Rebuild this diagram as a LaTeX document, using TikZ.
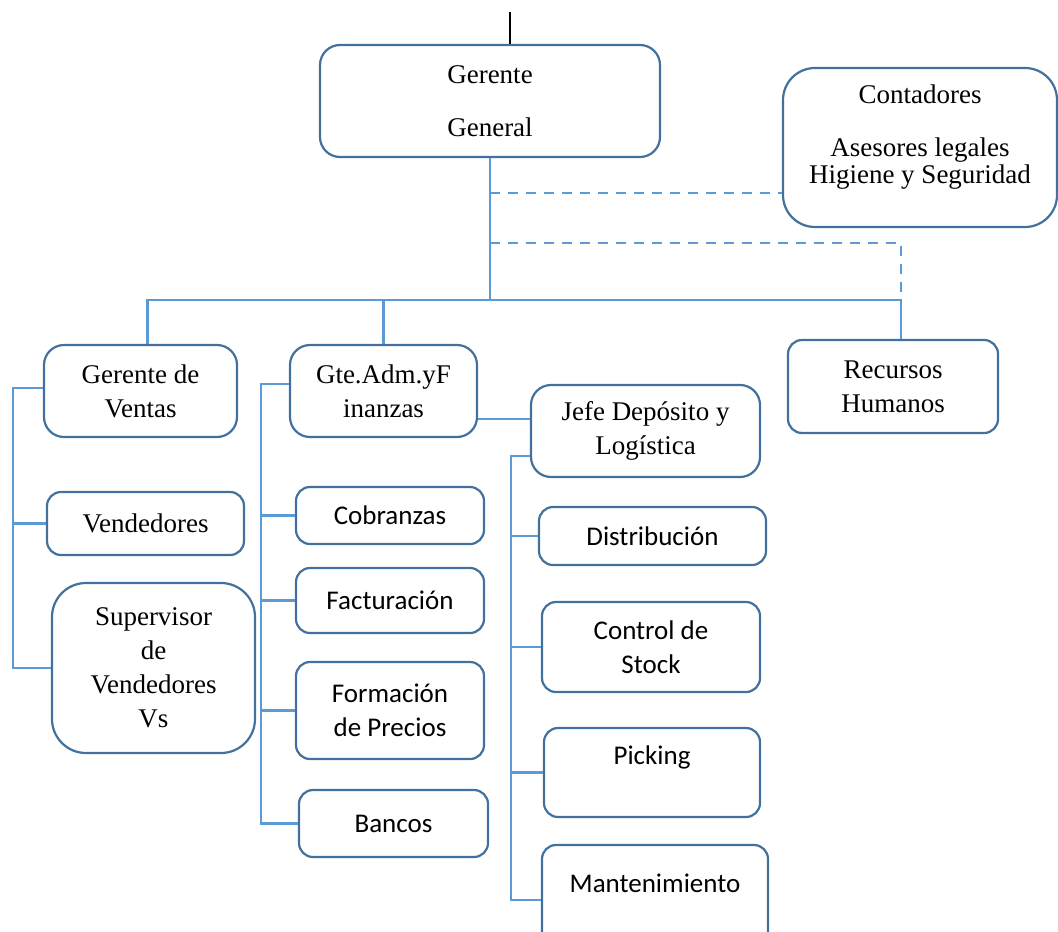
\documentclass[tikz,border=0pt]{standalone}
\usepackage{fontspec}
\setmainfont{Liberation Serif}
\newfontfamily\cuerpo{Carlito}
\usepackage{tikz}
\usetikzlibrary{calc}
\definecolor{orgedge}{HTML}{41719C}
\definecolor{orgline}{HTML}{5B9BD5}
\tikzset{
  obox/.style={draw=orgedge, fill=white, line width=1.1pt, rounded corners=7pt, align=center, inner sep=2pt, font=\fontsize{13.5}{17}\selectfont},
  oboxsans/.style={obox, font=\cuerpo\fontsize{13.5}{17}\selectfont},
  olink/.style={draw=orgline, line width=1.1pt},
  olinkdash/.style={olink, dash pattern=on 5pt off 4pt},
}

\begin{document}
\begin{tikzpicture}[x=0.5pt, y=-0.5pt]
  \useasboundingbox (0,0) rectangle (1058,931);
  % top level
  \node[obox, rounded corners=10pt, minimum width=170pt, minimum height=56pt] (gg) at (490,101) {Gerente\\[9.5pt]General};
  \node[obox, rounded corners=16pt, minimum width=137pt, minimum height=79.5pt, font=\fontsize{13.5}{13.5}\selectfont] (cont) at (920,147.5) {Contadores\\[13pt]Asesores legales\\Higiene y Seguridad\\\mbox{}};
  \node[obox, minimum width=105pt, minimum height=46.5pt] (rh) at (893,386.5) {Recursos\\Humanos};
  % second level
  \node[obox, rounded corners=10pt, minimum width=96.5pt, minimum height=46pt] (gv) at (140.5,391) {Gerente de\\Ventas};
  \node[obox, rounded corners=10pt, minimum width=93.5pt, minimum height=46pt] (ga) at (383.5,391) {Gte.Adm.yF\\inanzas};
  \node[obox, rounded corners=10pt, minimum width=114.5pt, minimum height=46pt] (jefe) at (645.5,431) {Jefe Depósito y\\Logística};
  % ventas
  \node[obox, minimum width=98.5pt, minimum height=31.5pt] (vend) at (145.5,523.5) {Vendedores};
  \node[obox, rounded corners=17pt, minimum width=101.5pt, minimum height=85pt] (sup) at (153.5,668) {Supervisor\\de\\Vendedores\\Vs};
  % administracion
  \node[oboxsans, minimum width=94pt, minimum height=28.5pt] (cob) at (390,515.5) {Cobranzas};
  \node[oboxsans, minimum width=94pt, minimum height=32.5pt] (fact) at (390,600.5) {Facturación};
  \node[oboxsans, minimum width=94pt, minimum height=48.5pt] (form) at (390,710.5) {Formación\\de Precios};
  \node[oboxsans, minimum width=94.5pt, minimum height=33.5pt] (banc) at (393.5,823.5) {Bancos};
  % deposito
  \node[oboxsans, minimum width=113.5pt, minimum height=29pt] (dist) at (652.5,536) {Distribución};
  \node[oboxsans, minimum width=109pt, minimum height=45pt] (ctrl) at (651,647) {Control de\\Stock};
  \node[oboxsans, minimum width=108pt, minimum height=44.5pt] (pick) at (652,772.5) {Picking\\\mbox{}};
  \node[oboxsans, minimum width=113pt, minimum height=55pt] (mant) at (655,900) {Mantenimiento\\\mbox{}};

  \coordinate (topmark) at (510,12);
  \draw[black, line width=1pt] (topmark) -- (topmark |- gg.north);
  \coordinate (hub) at (490,300);
  \coordinate (c1) at (490,193);
  \coordinate (c2) at (490,243);
  \coordinate (rhtap) at ([xshift=4pt]rh.north |- hub);
  \draw[olink] (gg.south) -- (hub);
  \draw[olink] (hub) -| ([xshift=3.5pt]gv.north);
  \draw[olink] (hub) -| (ga.north);
  \draw[olink] (hub) -- (rhtap) -- ([xshift=4pt]rh.north);
  \draw[olinkdash] (c1) -- (c1 -| cont.west);
  \draw[olinkdash] (c2) -| (rhtap);

  \draw[olink] ([yshift=1.5pt]gv.west) -- ++(-30,0) |- (sup.west);
  \draw[olink] (vend.west) -- ++(-33,0);

  \draw[olink] ([yshift=3.5pt]ga.west) -- ++(-28,0) |- (banc.west);
  \draw[olink] (cob.west) -- ++(-34,0);
  \draw[olink] (fact.west) -- ++(-34,0);
  \draw[olink] (form.west) -- ++(-34,0);
  \draw[olink] ([yshift=-14pt]ga.east) -- ([yshift=-14pt]ga.east -| jefe.west);

  \draw[olink] ([yshift=-12.5pt]jefe.west) -- ++(-19,0) |- (mant.west);
  \draw[olink] (dist.west) -- ++(-27,0);
  \draw[olink] (ctrl.west) -- ++(-30,0);
  \draw[olink] (pick.west) -- ++(-32,0);
\end{tikzpicture}
\end{document}
